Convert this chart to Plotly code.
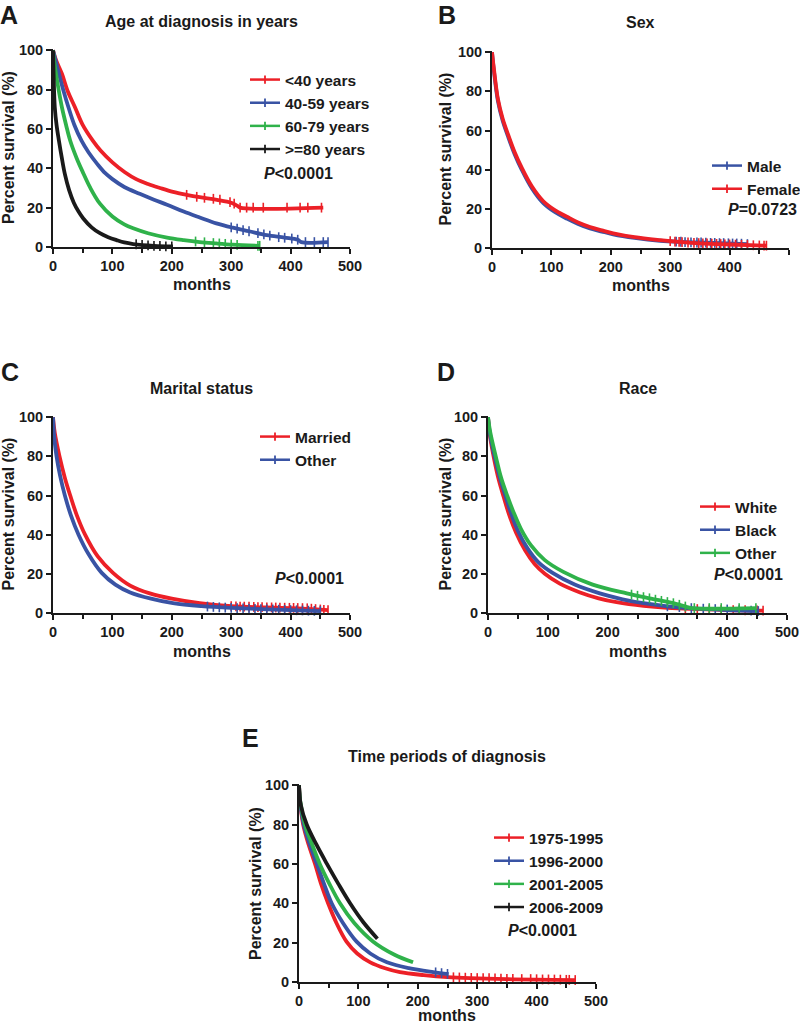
import plotly.graph_objects as go

RED = '#ec2027'
BLUE = '#3953a4'
GREEN = '#2fb24a'
BLACK = '#1a1a1a'
INK = '#1a1a1a'
FONT = 'Liberation Sans, Arial, sans-serif'

# ---------------- Panel A: Age at diagnosis ----------------
a_names = ['&lt;40 years', '40-59 years', '60-79 years', '&gt;=80 years']
a_colors = [RED, BLUE, GREEN, BLACK]
a_months = [
    [0, 5, 15, 25, 37, 50, 67, 80, 100, 121, 140, 160, 180, 202, 225, 247, 276, 300, 310, 315, 455],
    [0, 5, 10, 18, 26, 36, 48, 60, 75, 88, 100, 120, 146, 170, 192, 220, 247, 275, 303, 330, 360,
     390, 412, 418, 463],
    [0, 2, 5, 10, 15, 22, 29, 40, 51, 62, 79, 100, 120, 135, 160, 192, 220, 247, 275, 303, 348],
    [0, 1, 3, 6, 10, 15, 20, 27, 35, 43, 51, 65, 79, 93, 107, 120, 135, 170, 202],
]
a_surv = [
    [100, 95, 88, 79, 71, 62, 54, 49, 43, 38, 34.5, 32, 30, 28, 26.5, 25.3, 24, 22.5, 21, 20, 20],
    [100, 94, 88, 79, 71, 62, 54, 48, 42, 37.5, 34.5, 30.5, 27, 24, 21.5, 18, 15, 12, 9.8, 8, 6,
     4.8, 3.7, 2.5, 2.5],
    [100, 94, 88, 79, 71, 62, 54, 45, 37.5, 30.5, 22, 15.5, 11.5, 9.5, 7, 4.8, 3.5, 2.5, 1.8, 1.2, 0.6],
    [100, 88, 71, 62, 54, 45, 37, 29, 22.5, 18, 14.5, 10, 7, 5, 3.5, 2.3, 1.5, 0.6, 0.3],
]
a_cens_m = [
    [225, 242, 255, 270, 281, 298, 305, 315, 326, 337, 354, 394, 416, 429, 452],
    [300, 310, 320, 330, 345, 355, 365, 380, 390, 402, 412, 425, 440, 455, 463],
    [240, 255, 270, 280, 290, 300, 310, 345, 348],
    [140, 150, 160, 170, 180, 190, 200],
]
a_cens_s = [
    [26.5, 25.5, 25, 24.5, 24, 22.8, 22, 20, 20, 20, 20, 20, 20, 20, 20],
    [10, 9.3, 8.6, 8, 7, 6.4, 5.8, 5, 4.7, 4.3, 3.7, 2.5, 2.5, 2.5, 2.5],
    [2.8, 2.4, 2, 1.8, 1.6, 1.3, 1.1, 0.6, 0.6],
    [1.4, 1.1, 0.8, 0.6, 0.5, 0.3, 0.3],
]

# ---------------- Panel B: Sex ----------------
b_names = ['Male', 'Female']
b_colors = [BLUE, RED]
b_months = [
    [0, 3, 10, 18, 27, 38, 50, 67, 86, 105, 126, 145, 165, 185, 204, 240, 283, 320, 350, 430],
    [0, 3, 10, 18, 27, 38, 50, 67, 86, 105, 126, 145, 165, 185, 204, 240, 283, 320, 350, 400, 463],
]
b_surv = [
    [100, 91, 75, 65, 57, 48, 40, 30.5, 23, 18.5, 15, 12.3, 10, 8.4, 7, 5.2, 3.7, 3.1, 2.8, 2],
    [100, 92, 76, 66, 58, 49, 41, 31.5, 24, 19.5, 16, 13, 10.7, 9, 7.5, 5.5, 4, 3, 2.4, 1.8, 1.2],
]
b_cens_m = [
    [310, 318, 325, 335, 345, 352, 360, 368, 375, 383, 390, 398, 405, 412, 420, 430],
    [300, 308, 315, 320, 330, 340, 348, 355, 362, 370, 378, 385, 392, 400, 410, 420, 430, 440, 450,
     458, 462],
]
b_cens_s = [
    [3.3, 3.2, 3, 2.9, 2.8, 2.8, 2.7, 2.6, 2.6, 2.5, 2.5, 2.4, 2.3, 2.3, 2.2, 2],
    [3.5, 3.3, 3.1, 3, 2.8, 2.6, 2.5, 2.4, 2.3, 2.2, 2.1, 2, 1.9, 1.8, 1.7, 1.6, 1.5, 1.4, 1.3,
     1.25, 1.2],
]

# ---------------- Panel C: Marital status ----------------
c_names = ['Married', 'Other']
c_colors = [RED, BLUE]
c_months = [
    [0, 3, 11, 20, 29, 40, 54, 75, 101, 130, 163, 200, 247, 300, 400, 463],
    [0, 2, 6, 12, 20, 30, 43, 60, 82, 105, 130, 165, 202, 250, 300, 400, 450],
]
c_surv = [
    [100, 92, 80, 69, 60, 50, 40, 29, 20.5, 14, 10, 7.3, 5, 3.5, 2.5, 1.5],
    [100, 90, 80, 70, 60, 50, 40, 30, 20.5, 14.5, 10.5, 7.3, 5, 3.5, 2.6, 1.5, 1],
]
c_cens_m = [
    [300, 308, 315, 322, 330, 338, 345, 352, 360, 368, 375, 382, 390, 398, 405, 412, 420, 428, 435,
     442, 450, 456, 463],
    [260, 270, 280, 290, 300, 310, 320, 330, 340, 350, 360, 370, 380, 390, 400, 410, 420, 430, 440,
     450],
]
c_cens_s = [
    [3.5, 3.4, 3.3, 3.25, 3.2, 3.1, 3, 2.95, 2.9, 2.85, 2.8, 2.75, 2.7, 2.65, 2.6, 2.55, 2.5, 2.4,
     2.2, 2, 1.8, 1.6, 1.5],
    [3.3, 3.1, 2.9, 2.75, 2.6, 2.45, 2.3, 2.2, 2.1, 2, 1.9, 1.8, 1.7, 1.6, 1.5, 1.4, 1.3, 1.2, 1.1,
     1],
]

# ---------------- Panel D: Race ----------------
d_names = ['White', 'Black', 'Other']
d_colors = [RED, BLUE, GREEN]
d_months = [
    [0, 3, 10, 18, 26, 35, 47, 62, 78, 95, 120, 154, 185, 215, 260, 300, 400, 460],
    [0, 3, 11, 20, 29, 38, 50, 65, 84, 108, 145, 187, 225, 260, 300, 330, 400, 452],
    [0, 4, 13, 22, 32, 42, 55, 72, 95, 126, 175, 232, 270, 310, 330, 340, 448],
]
d_surv = [
    [100, 91, 79, 68, 59.5, 50.5, 41, 32, 25, 20, 15, 10.5, 7.5, 5.5, 3.6, 2.6, 1.5, 1.2],
    [100, 92, 80, 69, 60, 51.5, 42, 33.5, 26, 20.5, 14.5, 10, 7, 5, 3.4, 2.6, 1.5, 1],
    [100, 92, 80, 69, 60, 52, 43, 34.5, 27, 21, 14.5, 10, 7.5, 5, 3.3, 2.5, 2.5],
]
d_cens_m = [
    [330, 350, 370, 390, 410, 430, 450, 460],
    [300, 320, 340, 360, 380, 400, 420, 440, 452],
    [240, 250, 260, 270, 280, 290, 300, 310, 320, 330, 345, 370, 390, 420, 448],
]
d_cens_s = [
    [2.2, 2, 1.8, 1.6, 1.5, 1.4, 1.3, 1.2],
    [3.4, 3, 2.5, 2.2, 2, 1.8, 1.5, 1.2, 1],
    [9.4, 8.8, 8.1, 7.5, 6.8, 6.2, 5.6, 5, 4.2, 3.3, 2.5, 2.5, 2.5, 2.5, 2.5],
]

# ---------------- Panel E: Time periods of diagnosis ----------------
e_names = ['1975-1995', '1996-2000', '2001-2005', '2006-2009']
e_colors = [RED, BLUE, GREEN, BLACK]
e_months = [
    [0, 2, 7, 16, 27, 37, 49, 63, 80, 98, 120, 145, 170, 210, 250, 350, 465],
    [0, 2, 8, 18, 30, 42, 55, 74, 97, 120, 148, 185, 226, 252],
    [0, 2, 10, 22, 35, 51, 69, 93, 125, 160, 192],
    [0, 3, 13, 29, 47, 66, 86, 108, 132],
]
e_surv = [
    [100, 91, 80, 70, 60, 50, 40, 30, 20.5, 14.5, 10, 7, 5, 3.5, 2.5, 1.5, 1],
    [100, 91, 80, 70, 60, 50, 40, 30, 20.5, 14.5, 10, 7, 5, 4],
    [100, 92, 80, 70, 60, 50, 40, 30, 20.5, 14, 10],
    [100, 90, 80, 70, 60, 50, 40, 30.5, 22],
]
e_cens_m = [
    [260, 270, 280, 290, 300, 310, 320, 330, 340, 350, 360, 375, 390, 400, 410, 420, 430, 440, 450,
     455, 465],
    [230, 240, 250],
    [],
    [],
]
e_cens_s = [
    [2.4, 2.3, 2.2, 2.1, 2, 1.95, 1.9, 1.8, 1.7, 1.6, 1.6, 1.5, 1.5, 1.4, 1.3, 1.3, 1.25, 1.2, 1.1,
     1.1, 1],
    [4.9, 4.5, 4.1],
    [],
    [],
]

W, H = 800, 1026


def px(x):
    return x / W


def py(y):
    return 1 - y / H


panels = [
    dict(key='A', title='Age at diagnosis in years', names=a_names, colors=a_colors,
         months=a_months, surv=a_surv, cm=a_cens_m, cs=a_cens_s,
         xdom=(53, 350), ydom=(49, 247), legend='legend', leg_x=283, leg_y=80,
         ptext='<i>P</i>&lt;0.0001', p_x=262, p_y=174, letter_xy=(9, 0),
         ytitle_x=8, xtitle_y=284),
    dict(key='B', title='Sex', names=b_names, colors=b_colors,
         months=b_months, surv=b_surv, cm=b_cens_m, cs=b_cens_s,
         xdom=(492, 789), ydom=(51, 248), legend='legend2', leg_x=745, leg_y=166,
         ptext='<i>P</i>=0.0723', p_x=726, p_y=209, letter_xy=(447, 0),
         ytitle_x=445, xtitle_y=285),
    dict(key='C', title='Marital status', names=c_names, colors=c_colors,
         months=c_months, surv=c_surv, cm=c_cens_m, cs=c_cens_s,
         xdom=(53, 350), ydom=(416, 613), legend='legend3', leg_x=293, leg_y=437,
         ptext='<i>P</i>&lt;0.0001', p_x=273, p_y=578, letter_xy=(10, 357),
         ytitle_x=8, xtitle_y=651),
    dict(key='D', title='Race', names=d_names, colors=d_colors,
         months=d_months, surv=d_surv, cm=d_cens_m, cs=d_cens_s,
         xdom=(488, 787), ydom=(416, 613), legend='legend4', leg_x=733, leg_y=507,
         ptext='<i>P</i>&lt;0.0001', p_x=712, p_y=574, letter_xy=(446, 357),
         ytitle_x=445, xtitle_y=651),
    dict(key='E', title='Time periods of diagnosis', names=e_names, colors=e_colors,
         months=e_months, surv=e_surv, cm=e_cens_m, cs=e_cens_s,
         xdom=(299, 596), ydom=(784, 982), legend='legend5', leg_x=527, leg_y=838,
         ptext='<i>P</i>&lt;0.0001', p_x=506, p_y=930, letter_xy=(251, 723),
         ytitle_x=255, xtitle_y=1015),
]

fig = go.Figure()
layout = dict(
    width=W, height=H, margin=dict(l=0, r=0, t=0, b=0, autoexpand=False),
    paper_bgcolor='white', plot_bgcolor='white', showlegend=True,
    font=dict(family=FONT, color=INK),
)
annotations = []

for i, p in enumerate(panels):
    n = i + 1
    xa = 'x' if n == 1 else f'x{n}'
    ya = 'y' if n == 1 else f'y{n}'
    xkey = 'xaxis' if n == 1 else f'xaxis{n}'
    ykey = 'yaxis' if n == 1 else f'yaxis{n}'
    tickfont = dict(family=FONT, size=14.5, color=INK, weight='bold')
    layout[xkey] = dict(
        domain=[px(p['xdom'][0]), px(p['xdom'][1])], anchor=ya,
        range=[0, 500], tickvals=[0, 100, 200, 300, 400, 500],
        ticks='outside', ticklen=5, tickwidth=2, tickcolor=INK,
        showline=True, linewidth=2, linecolor=INK, showgrid=False, zeroline=False,
        tickfont=tickfont, automargin=False,
        minor=dict(tickvals=[50, 150, 250, 350, 450], ticks='outside', ticklen=4,
                   tickwidth=2, tickcolor=INK, showgrid=False),
    )
    layout[ykey] = dict(
        domain=[py(p['ydom'][1]), py(p['ydom'][0])], anchor=xa,
        range=[0, 100.6], tickvals=[0, 20, 40, 60, 80, 100],
        ticks='outside', ticklen=5, tickwidth=2, tickcolor=INK,
        showline=True, linewidth=2, linecolor=INK, showgrid=False, zeroline=False,
        tickfont=tickfont, automargin=False,
    )
    # legend
    layout[p['legend']] = dict(
        x=px(p['leg_x'] - 38), y=py(p['leg_y'] - 17), xanchor='left', yanchor='top',
        bgcolor='rgba(0,0,0,0)', borderwidth=0, itemwidth=30, tracegroupgap=0,
        font=dict(family=FONT, size=15.5, color=INK, weight='bold'),
        itemclick=False, itemdoubleclick=False,
    )
    # curves
    for name, col, m, s, cm, cs in zip(p['names'], p['colors'], p['months'],
                                         p['surv'], p['cm'], p['cs']):
        fig.add_trace(go.Scatter(
            x=m, y=s, mode='lines', xaxis=xa, yaxis=ya,
            line=dict(color=col, width=3.8, shape='spline', smoothing=1.0),
            showlegend=False, hoverinfo='skip'))
        if cm:
            fig.add_trace(go.Scatter(
                x=cm, y=cs, mode='markers', xaxis=xa, yaxis=ya,
                marker=dict(symbol='line-ns', size=7, line=dict(color=col, width=1.6)),
                showlegend=False, hoverinfo='skip', cliponaxis=False))
    # legend-only entries
    for name, col in zip(p['names'], p['colors']):
        fig.add_trace(go.Scatter(
            x=[None], y=[None], mode='lines+markers', name=name, xaxis=xa, yaxis=ya,
            legend=p['legend'],
            line=dict(color=col, width=2.5),
            marker=dict(symbol='line-ns', size=6, line=dict(color=col, width=1.8)),
            hoverinfo='skip'))
    cx = (p['xdom'][0] + p['xdom'][1]) / 2
    cy = (p['ydom'][0] + p['ydom'][1]) / 2
    # panel title
    annotations.append(dict(
        text=p['title'], x=px(cx), y=py(p['ydom'][0] - 28), xref='paper', yref='paper',
        xanchor='center', yanchor='middle', showarrow=False,
        font=dict(family=FONT, size=16, color=INK, weight='bold')))
    # panel letter
    annotations.append(dict(
        text=p['key'], x=px(p['letter_xy'][0]), y=py(p['letter_xy'][1]),
        xref='paper', yref='paper', xanchor='center', yanchor='top', showarrow=False,
        borderpad=0, font=dict(family=FONT, size=25, color=INK, weight='bold')))
    # x-axis title
    annotations.append(dict(
        text='months', x=px(cx), y=py(p['xtitle_y']), xref='paper', yref='paper',
        xanchor='center', yanchor='middle', showarrow=False,
        font=dict(family=FONT, size=16, color=INK, weight='bold')))
    # y-axis title
    annotations.append(dict(
        text='Percent survival (%)', x=px(p['ytitle_x']), y=py(cy),
        xref='paper', yref='paper', xanchor='center', yanchor='middle',
        textangle=-90, showarrow=False,
        font=dict(family=FONT, size=16, color=INK, weight='bold')))
    # p-value
    annotations.append(dict(
        text=p['ptext'], x=px(p['p_x']), y=py(p['p_y']), xref='paper', yref='paper',
        xanchor='left', yanchor='middle', showarrow=False,
        font=dict(family=FONT, size=16, color=INK, weight='bold')))

layout['annotations'] = annotations
fig.update_layout(**layout)
fig.write_html(
    'out.html',
    config={'displayModeBar': False, 'staticPlot': True},
    post_script="document.body.style.margin='0px';document.body.style.padding='0px';"
                "document.documentElement.style.overflow='hidden';",
)
